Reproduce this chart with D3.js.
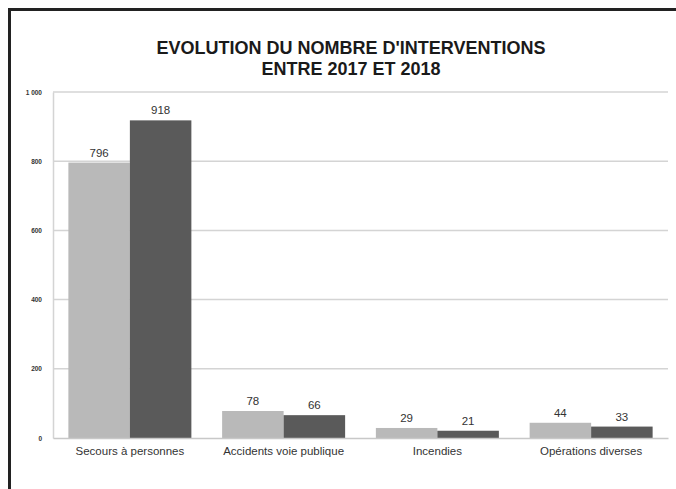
<!DOCTYPE html>
<html>
<head>
<meta charset="utf-8">
<script src="https://cdn.jsdelivr.net/npm/d3@7"></script>
<style>
  html, body { margin: 0; padding: 0; background: #fff; }
  svg { display: block; font-family: "Liberation Sans", Arial, sans-serif; }
</style>
</head>
<body>
<div id="chart"></div>
<script>
// ── Data ──────────────────────────────────────────────────────────────────
const categories = ["Secours à personnes", "Accidents voie publique", "Incendies", "Opérations diverses"];
const years      = ["2017", "2018"];
const values2017 = [796, 78, 29, 44];
const values2018 = [918, 66, 21, 33];
const yTicks     = [0, 200, 400, 600, 800, 1000];
const yTickLabels = ["0", "200", "400", "600", "800", "1 000"];
const titleLines = ["EVOLUTION DU NOMBRE D'INTERVENTIONS", "ENTRE 2017 ET 2018"];

const colors = { "2017": "#b9b9b9", "2018": "#5a5a5a" };

// ── Layout ────────────────────────────────────────────────────────────────
const totalW = 676, totalH = 489;
const margin = { top: 92, right: 8, bottom: 51, left: 53 };
const W = totalW - margin.left - margin.right;
const H = totalH - margin.top - margin.bottom;

const svg = d3.select("#chart").append("svg")
  .attr("width", totalW)
  .attr("height", totalH);

// frame
svg.append("path")
  .attr("d", `M9.5,${totalH + 5} V9.5 H${totalW + 5}`)
  .attr("fill", "none")
  .attr("stroke", "#222")
  .attr("stroke-width", 3);

// title
svg.append("text")
  .attr("x", 351).attr("y", 54)
  .attr("text-anchor", "middle")
  .attr("font-weight", "bold")
  .attr("font-size", 18)
  .attr("fill", "#1a1a1a")
  .selectAll("tspan")
  .data(titleLines)
  .join("tspan")
  .attr("x", 351)
  .attr("dy", (d, i) => i === 0 ? 0 : 21)
  .text(d => d);

const g = svg.append("g")
  .attr("transform", `translate(${margin.left},${margin.top})`);

// ── Scales ────────────────────────────────────────────────────────────────
const x0 = d3.scaleBand()
  .domain(categories)
  .range([0, W])
  .paddingInner(0.2)
  .paddingOuter(0.1);

const x1 = d3.scaleBand()
  .domain(years)
  .range([0, x0.bandwidth()]);

const y = d3.scaleLinear()
  .domain([0, 1000])
  .range([H, 0]);

// ── Grid ──────────────────────────────────────────────────────────────────
g.append("g")
  .selectAll("line")
  .data(yTicks.filter(d => d > 0))
  .join("line")
  .attr("x1", 0).attr("x2", W)
  .attr("y1", d => y(d)).attr("y2", d => y(d))
  .attr("stroke", "#d4d4d4")
  .attr("stroke-width", 1.5);

// ── Y axis ────────────────────────────────────────────────────────────────
const yAxis = g.append("g")
  .call(d3.axisLeft(y)
    .tickValues(yTicks)
    .tickSize(0)
    .tickPadding(11)
    .tickFormat((d, i) => yTickLabels[i]));
yAxis.select(".domain").attr("stroke", "#d4d4d4").attr("stroke-width", 1.5);
yAxis.selectAll("text")
  .attr("font-size", 6.5)
  .attr("font-weight", "bold")
  .attr("fill", "#333")
  .attr("font-family", "Liberation Sans, Arial, sans-serif");

// ── Bars ──────────────────────────────────────────────────────────────────
const rows = categories.map((c, i) => ({
  cat: c,
  vals: [{ year: "2017", v: values2017[i] }, { year: "2018", v: values2018[i] }]
}));

const groups = g.selectAll(".grp")
  .data(rows)
  .join("g")
  .attr("class", "grp")
  .attr("transform", d => `translate(${x0(d.cat)},0)`);

groups.selectAll("rect")
  .data(d => d.vals)
  .join("rect")
  .attr("x", d => x1(d.year))
  .attr("y", d => y(d.v))
  .attr("width", x1.bandwidth())
  .attr("height", d => H - y(d.v))
  .attr("fill", d => colors[d.year]);

groups.selectAll("text")
  .data(d => d.vals)
  .join("text")
  .attr("x", d => x1(d.year) + x1.bandwidth() / 2)
  .attr("y", d => y(d.v) - 6)
  .attr("text-anchor", "middle")
  .attr("font-size", 11.5)
  .attr("fill", "#333")
  .text(d => d.v);

// ── X axis ────────────────────────────────────────────────────────────────
const xAxis = g.append("g")
  .attr("transform", `translate(0,${H})`)
  .call(d3.axisBottom(x0).tickSize(0).tickPadding(9));
xAxis.select(".domain").attr("stroke", "#c8c8c8").attr("stroke-width", 1.5);
xAxis.selectAll("text")
  .attr("font-size", 11.5)
  .attr("fill", "#333")
  .attr("font-family", "Liberation Sans, Arial, sans-serif");
</script>
</body>
</html>
